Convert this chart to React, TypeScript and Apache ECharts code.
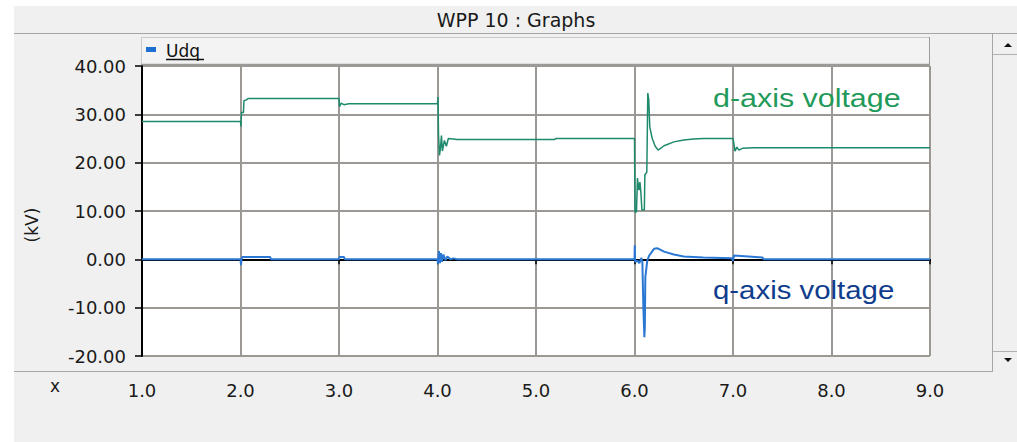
import React, { useEffect, useRef } from "react";
import * as echarts from "echarts";

// Simulation time (s) and dq-frame voltage (kV) of WPP 10
const dAxisVoltage: [number, number][] = [
  [1.0, 28.5], [2.0, 28.5], [2.005, 27.5], [2.01, 30.4], [2.03, 30.4], [2.035, 32.8],
  [2.06, 33.0], [2.08, 33.3], [3.0, 33.3], [3.005, 31.6], [3.02, 32.3], [3.05, 32.0],
  [3.1, 32.2], [4.0, 32.2], [4.005, 33.6], [4.01, 26.0], [4.02, 21.5], [4.03, 23.0],
  [4.04, 25.6], [4.05, 22.4], [4.07, 24.6], [4.09, 23.4], [4.11, 25.0], [4.2, 24.8],
  [5.19, 24.8], [5.2, 25.0], [6.0, 25.0], [6.005, 9.8], [6.02, 9.8], [6.03, 16.8],
  [6.045, 14.3], [6.055, 16.0], [6.065, 13.8], [6.075, 10.2], [6.1, 10.2], [6.105, 17.5],
  [6.125, 18.0], [6.135, 34.4], [6.145, 33.0], [6.155, 27.4], [6.18, 25.0], [6.21, 23.4],
  [6.24, 22.6], [6.3, 23.5], [6.4, 24.3], [6.5, 24.7], [6.6, 24.9], [6.7, 25.0],
  [7.0, 25.0], [7.01, 23.8], [7.02, 22.4], [7.04, 23.2], [7.06, 22.6], [7.1, 23.0],
  [7.2, 23.1], [9.0, 23.1],
];

const qAxisVoltage: [number, number][] = [
  [1.0, 0], [2.0, 0], [2.005, -1.2], [2.01, 0.1], [2.02, 0.5], [2.3, 0.5], [2.31, 0],
  [3.0, 0], [3.005, 0.5], [3.05, 0.5], [3.06, 0], [4.0, 0], [4.005, -0.9], [4.015, 1.7],
  [4.025, -0.8], [4.035, 1.3], [4.045, -0.5], [4.06, 1.0], [4.08, -0.2], [4.1, 0.6],
  [4.13, 0], [4.16, 0.2], [4.2, 0], [6.0, 0], [6.003, 2.9], [6.006, -0.5], [6.03, -0.3],
  [6.05, -0.8], [6.07, 0.3], [6.08, -0.6], [6.09, -9.9], [6.1, -16.1], [6.105, -14.0],
  [6.11, -3.7], [6.13, -0.2], [6.15, 0.8], [6.2, 2.2], [6.23, 2.3], [6.3, 1.6],
  [6.4, 1.0], [6.5, 0.6], [6.7, 0.4], [6.99, 0.2], [7.0, -0.3], [7.01, 0.8], [7.3, 0.4],
  [7.31, 0], [9.0, 0],
];

const xRange = { min: 1, max: 9, step: 1 };
const yRange = { min: -20, max: 40, step: 10 };

const titleText = "WPP 10 : Graphs";
const legendText = "Udq";
const yUnit = "(kV)";
const xName = "x";
const dLabel = "d-axis voltage";
const qLabel = "q-axis voltage";

const D_COLOR = "#1e8a6c";
const Q_COLOR = "#2a78d4";
const GRID_COLOR = "#9c9994";
const FONT = "DejaVu Sans";

export default function App() {
  const ref = useRef<HTMLDivElement>(null);

  useEffect(() => {
    if (!ref.current) return;
    const chart = echarts.init(ref.current, undefined, { renderer: "svg" });

    chart.setOption({
      animation: false,
      backgroundColor: "#f0f0f0",
      grid: {
        left: 142,
        right: 87,
        top: 66,
        bottom: 86,
        show: true,
        backgroundColor: "#ffffff",
        borderColor: "#a8a8a8",
        borderWidth: 1,
      },
      xAxis: {
        type: "value",
        min: xRange.min,
        max: xRange.max,
        interval: xRange.step,
        offset: 17,
        axisLine: { show: true, lineStyle: { color: "#000", width: 2 } },
        axisTick: { show: true, length: 5, lineStyle: { color: "#000", width: 1.5 } },
        axisLabel: {
          formatter: (v: number) => v.toFixed(1),
          fontFamily: FONT,
          fontSize: 18,
          color: "#1a1a1a",
          margin: 8,
        },
        splitLine: { show: true, lineStyle: { color: GRID_COLOR, width: 2 } },
      },
      yAxis: {
        type: "value",
        min: yRange.min,
        max: yRange.max,
        interval: yRange.step,
        axisLine: { show: true, lineStyle: { color: "#000", width: 2 } },
        axisTick: { show: true, length: 7, lineStyle: { color: "#000", width: 1.5 } },
        axisLabel: {
          formatter: (v: number) => v.toFixed(2),
          fontFamily: FONT,
          fontSize: 18,
          color: "#1a1a1a",
          margin: 16,
        },
        splitLine: { show: true, lineStyle: { color: GRID_COLOR, width: 2 } },
      },
      series: [
        {
          name: "Ud",
          type: "line",
          data: dAxisVoltage,
          showSymbol: false,
          lineStyle: { color: D_COLOR, width: 1.5 },
          z: 3,
        },
        {
          name: "Uq",
          type: "line",
          data: qAxisVoltage,
          showSymbol: false,
          lineStyle: { color: Q_COLOR, width: 2 },
          z: 4,
        },
      ],
      graphic: [
        // window frame strips
        { type: "rect", shape: { x: 0, y: 0, width: 1017, height: 6 }, style: { fill: "#ffffff" }, z: 50 },
        { type: "rect", shape: { x: 0, y: 0, width: 14, height: 442 }, style: { fill: "#ffffff" }, z: 50 },
        {
          type: "text",
          x: 516,
          y: 20,
          style: {
            text: titleText,
            font: `19px "${FONT}"`,
            fill: "#1a1a1a",
            textAlign: "center",
            textVerticalAlign: "middle",
          },
          z: 50,
        },
        { type: "line", shape: { x1: 14, y1: 33.5, x2: 1017, y2: 33.5 }, style: { stroke: "#a6a6a6", lineWidth: 1 }, z: 50 },
        { type: "line", shape: { x1: 14, y1: 371.5, x2: 992, y2: 371.5 }, style: { stroke: "#a6a6a6", lineWidth: 1 }, z: 50 },
        { type: "line", shape: { x1: 992.5, y1: 34, x2: 992.5, y2: 372 }, style: { stroke: "#a6a6a6", lineWidth: 1 }, z: 50 },
        // scrollbar buttons
        { type: "line", shape: { x1: 993, y1: 54.5, x2: 1017, y2: 54.5 }, style: { stroke: "#b0b0b0", lineWidth: 1 }, z: 50 },
        { type: "line", shape: { x1: 993, y1: 351.5, x2: 1017, y2: 351.5 }, style: { stroke: "#b0b0b0", lineWidth: 1 }, z: 50 },
        { type: "polygon", shape: { points: [[1004, 47], [1012, 47], [1008, 43]] }, style: { fill: "#111" }, z: 50 },
        { type: "polygon", shape: { points: [[1004, 358], [1012, 358], [1008, 362]] }, style: { fill: "#111" }, z: 50 },
        // legend box
        {
          type: "rect",
          shape: { x: 141.5, y: 37.5, width: 788, height: 27 },
          style: { fill: "#f3f3f3", stroke: "#c8c8c8", lineWidth: 1 },
          z: 60,
        },
        { type: "line", shape: { x1: 141, y1: 64.5, x2: 930, y2: 64.5 }, style: { stroke: "#9a9a9a", lineWidth: 1.5 }, z: 61 },
        { type: "line", shape: { x1: 929.5, y1: 37, x2: 929.5, y2: 65 }, style: { stroke: "#9a9a9a", lineWidth: 1 }, z: 61 },
        { type: "rect", shape: { x: 146, y: 47, width: 10, height: 5 }, style: { fill: "#1e6fd2" }, z: 62 },
        {
          type: "text",
          x: 166,
          y: 51,
          style: {
            text: legendText,
            font: `17px "${FONT}"`,
            fill: "#111",
            textAlign: "left",
            textVerticalAlign: "middle",
          },
          z: 62,
        },
        { type: "line", shape: { x1: 166, y1: 59.5, x2: 204, y2: 59.5 }, style: { stroke: "#111", lineWidth: 1.5 }, z: 62 },
        // axis captions
        {
          type: "text",
          x: 32,
          y: 225,
          rotation: Math.PI / 2,
          style: {
            text: yUnit,
            font: `17px "${FONT}"`,
            fill: "#1a1a1a",
            textAlign: "center",
            textVerticalAlign: "middle",
          },
          z: 50,
        },
        {
          type: "text",
          x: 55,
          y: 386,
          style: {
            text: xName,
            font: `17px "${FONT}"`,
            fill: "#1a1a1a",
            textAlign: "center",
            textVerticalAlign: "middle",
          },
          z: 50,
        },
        // curve annotations
        {
          type: "text",
          x: 713,
          y: 98,
          scaleX: 1.17,
          style: {
            text: dLabel,
            font: `26px "Liberation Sans"`,
            fill: "#1f9a5a",
            textAlign: "left",
            textVerticalAlign: "middle",
          },
          z: 40,
        },
        {
          type: "text",
          x: 713,
          y: 290,
          scaleX: 1.13,
          style: {
            text: qLabel,
            font: `26px "Liberation Sans"`,
            fill: "#0f3c8c",
            textAlign: "left",
            textVerticalAlign: "middle",
          },
          z: 40,
        },
      ],
    });

    return () => chart.dispose();
  }, []);

  return (
    <div
      ref={ref}
      style={{ position: "fixed", left: 0, top: 0, width: 1017, height: 442 }}
    />
  );
}
